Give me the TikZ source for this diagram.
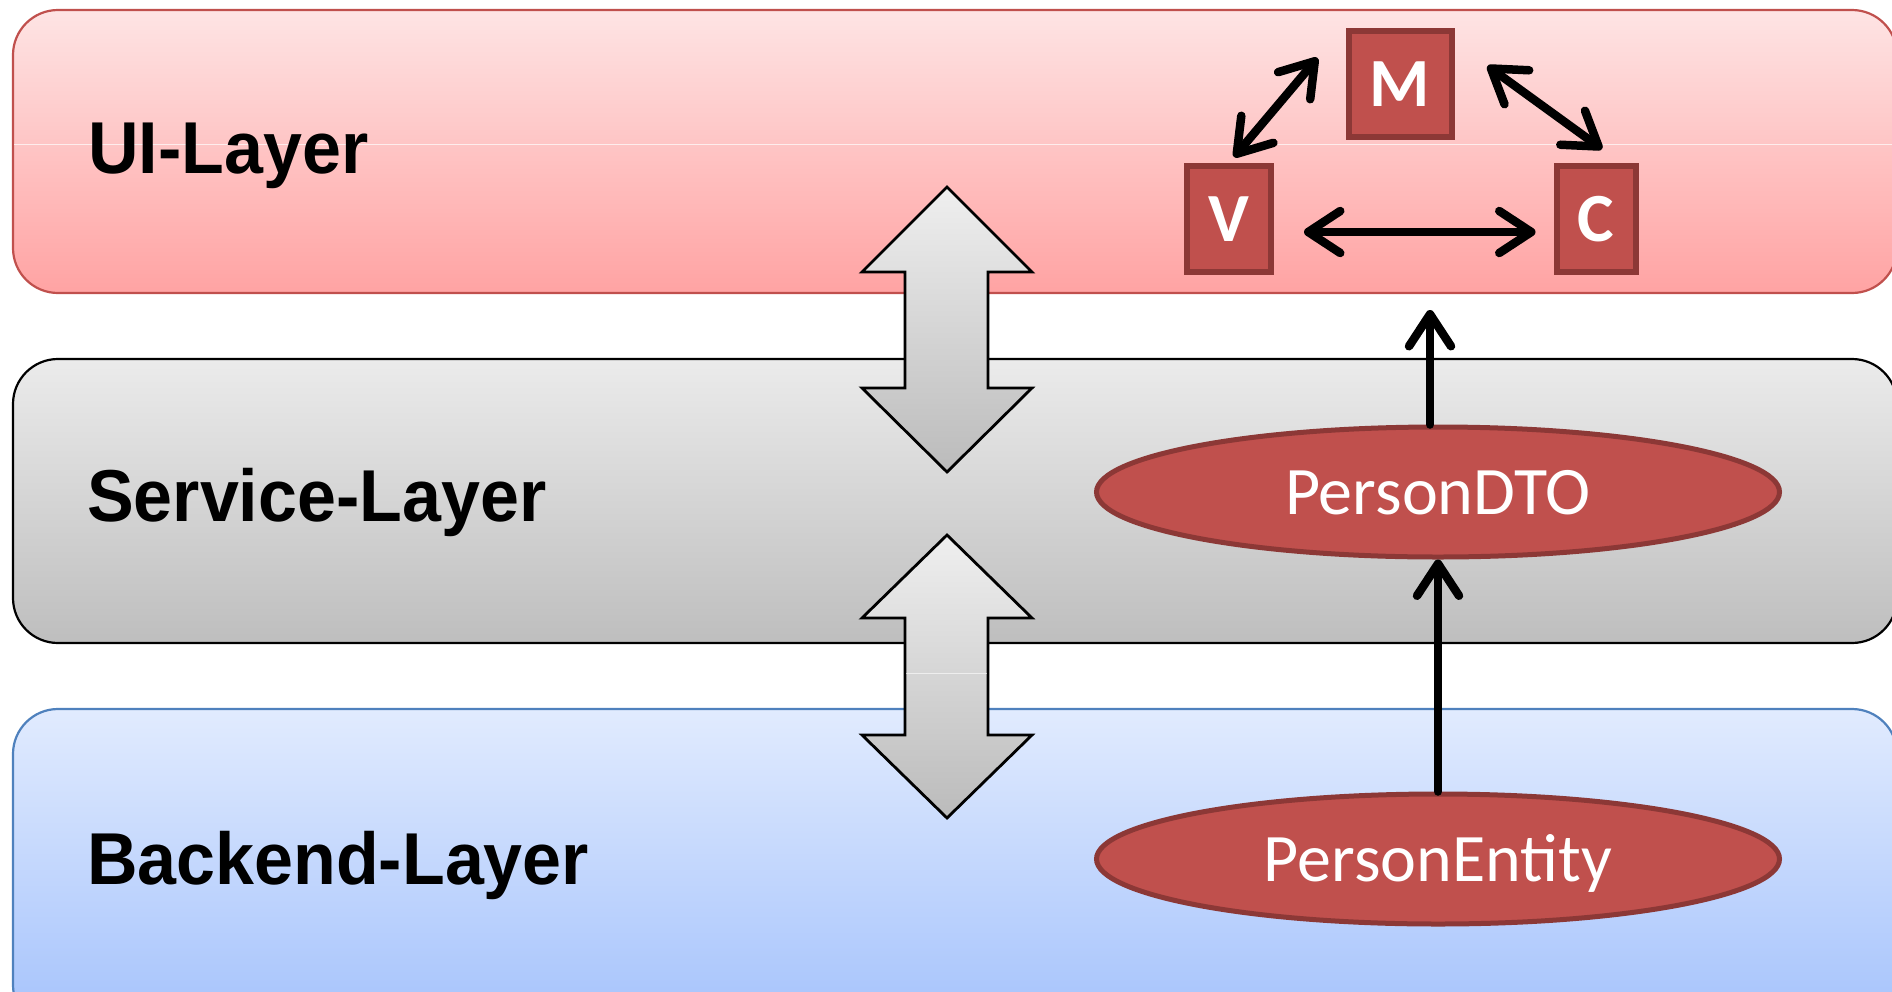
\documentclass[tikz,border=0pt]{standalone}
\usepackage{fontspec}
\usetikzlibrary{arrows.meta,shapes.geometric}
\newfontfamily\layerfont{Liberation Sans}
\newfontfamily\calfont{Carlito}

\definecolor{uiTop}{HTML}{FEE4E4}
\definecolor{uiBottom}{HTML}{FFA3A3}
\definecolor{uiEdge}{HTML}{C0504D}
\definecolor{svTop}{HTML}{EBEBEB}
\definecolor{svBottom}{HTML}{BEBEBE}
\definecolor{beTop}{HTML}{E1EBFE}
\definecolor{beBottom}{HTML}{A4C2FC}
\definecolor{beEdge}{HTML}{4F81BD}
\definecolor{boxFill}{HTML}{C0504D}
\definecolor{boxEdge}{HTML}{8C3836}
\definecolor{arTop}{HTML}{EFEFEF}
\definecolor{arBottom}{HTML}{BBBBBB}

\begin{document}
\begin{tikzpicture}[x=1pt,y=-1pt,
  layerbox/.style={rounded corners=45pt, line width=2.2pt},
  layerlabel/.style={anchor=base west, inner sep=0pt, yscale=1.05,
    font=\layerfont\bfseries\fontsize{70}{70}\selectfont},
  mvcbox/.style={draw=boxEdge, fill=boxFill, line width=6pt, inner sep=0pt,
    minimum height=106pt, text=white,
    font=\calfont\bfseries\fontsize{69}{69}\selectfont},
  entity/.style={ellipse, draw=boxEdge, fill=boxFill, line width=5pt, inner sep=0pt,
    minimum width=683pt, minimum height=130pt, text=white,
    text height=44pt, text depth=0pt,
    font=\calfont\fontsize{68}{68}\selectfont},
  barb/.tip={Straight Barb[length=32pt,width=42pt,round]},
  link/.style={line width=8.5pt, line cap=round, -barb},
  biglink/.style={line width=8.5pt, line cap=round, barb-barb},
  blockarrow/.style={draw=black, line width=2.8pt, line join=miter,
    top color=arTop, bottom color=arBottom}
]
\useasboundingbox (0,0) rectangle (1892,991);
\clip (0,0) rectangle (1892,991);

% layers
\path[layerbox, draw=uiEdge, top color=uiTop, bottom color=uiBottom]
  (13,10) rectangle (1897,293);
\draw[white, opacity=0.7, line width=1pt] (14,144) -- (1892,144);
\path[layerbox, draw=black, top color=svTop, bottom color=svBottom]
  (13,359) rectangle (1897,643);
\path[layerbox, draw=beEdge, top color=beTop, bottom color=beBottom]
  (13,709) rectangle (1897,1030);

\node[layerlabel] (ui) at (88,173) {UI-Layer};
\node[layerlabel] (service) at (87,521) {Service-Layer};
\node[layerlabel] (backend) at (87,884) {Backend-Layer};

% double block arrows between the layers
\path[blockarrow] (947,187) -- (1032,272) -- (988,272) -- (988,388) -- (1032,388)
  -- (947,472) -- (862,388) -- (905,388) -- (905,272) -- (862,272) -- cycle;
\path[blockarrow] (947,535) -- (1032,618) -- (988,618) -- (988,735) -- (1032,735)
  -- (947,818) -- (862,735) -- (905,735) -- (905,618) -- (862,618) -- cycle;
\draw[white, opacity=0.6, line width=1pt] (906,673) -- (987,673);

% model / view / controller
\node[mvcbox, minimum width=103pt] (M) at (1400,84) {M};
\node[mvcbox, minimum width=84pt] (V) at (1229,219) {V};
\node[mvcbox, minimum width=79pt] (C) at (1596,219) {C};

\draw[biglink] ([shift={(5,-6)}]V.north) -- ([shift={(-28,-26)}]M.west);
\draw[biglink] ([shift={(33,-18)}]M.east) -- ([shift={(6,-14)}]C.north);
\draw[biglink] ([shift={(30,13)}]V.east) -- ([shift={(-18,13)}]C.west);

% data objects
\node[entity] (DTO) at (1438,492) {PersonDTO};
\node[entity] (Entity) at (1438,859) {PersonEntity};

\coordinate (uiEntry) at (1430,310);
\draw[link] ([xshift=-8pt]DTO.north) -- (uiEntry);
\draw[link] (Entity.north) -- (DTO.south);
\end{tikzpicture}
\end{document}
